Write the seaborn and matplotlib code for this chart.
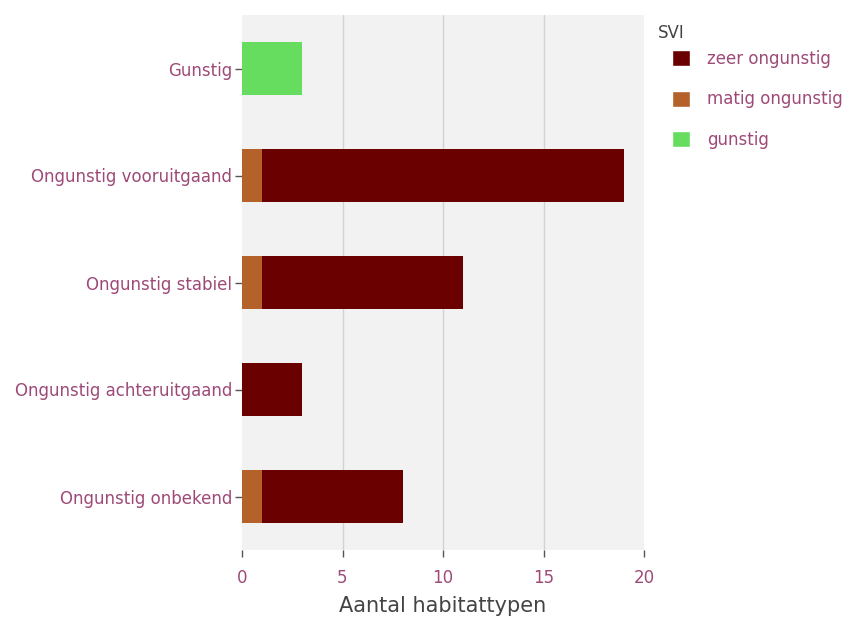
import matplotlib
matplotlib.use("Agg")
import matplotlib.pyplot as plt
from matplotlib.patches import Patch
import seaborn as sns
import pandas as pd

# categories (top to bottom) and counts per SVI class
categories = ["Gunstig", "Ongunstig vooruitgaand", "Ongunstig stabiel",
              "Ongunstig achteruitgaand", "Ongunstig onbekend"]
matig_ongunstig = [0, 1, 1, 0, 1]
zeer_ongunstig = [0, 18, 10, 3, 7]
gunstig = [3, 0, 0, 0, 0]

col_zeer = "#6b0000"
col_matig = "#b5612a"
col_gunstig = "#66dd5e"
label_col = "#9e4a78"

df = pd.DataFrame({
    "cat": categories,
    "matig": matig_ongunstig,
    "zeer": zeer_ongunstig,
    "gunstig": gunstig,
})
df["matig_zeer"] = df["matig"] + df["zeer"]

sns.set_style("white")
plt.rcParams["font.family"] = ["DejaVu Sans"]

fig = plt.figure(figsize=(8.47, 6.17), dpi=100)
ax = fig.add_axes([242 / 847, 1 - 550 / 617, (644 - 242) / 847, (550 - 15) / 617])
ax.set_facecolor("#f2f2f2")

# stacked bars: draw cumulative total first, then the lower segment over it
sns.barplot(data=df, x="matig_zeer", y="cat", order=categories, color=col_zeer,
            width=0.5, orient="h", ax=ax, saturation=1, linewidth=0, zorder=2)
sns.barplot(data=df, x="matig", y="cat", order=categories, color=col_matig,
            width=0.5, orient="h", ax=ax, saturation=1, linewidth=0, zorder=3)
sns.barplot(data=df, x="gunstig", y="cat", order=categories, color=col_gunstig,
            width=0.5, orient="h", ax=ax, saturation=1, linewidth=0, zorder=4)

ax.set_xlim(0, 20)
ax.set_ylim(4.5, -0.5)
ax.set_xticks([0, 5, 10, 15, 20])
for v in [5, 10, 15]:
    ax.axvline(v, color="#d3d3d3", linewidth=1, zorder=0)
for s in ax.spines.values():
    s.set_visible(False)

ax.tick_params(axis="both", left=True, bottom=True, colors="#555555",
               length=5, width=1, labelsize=12, labelcolor=label_col,
               direction="out")
ax.tick_params(axis="y", pad=2)
ax.tick_params(axis="x", pad=9)
ax.set_ylabel("")
ax.set_xlabel("Aantal habitattypen", fontsize=15, color="#444444", labelpad=6)

# legend: title placed separately so entries can be indented
fig.text(658 / 847, 1 - 33 / 617, "SVI", fontsize=12, color="#444444",
         ha="left", va="center")
handles = [Patch(facecolor=col_zeer, label="zeer ongunstig"),
           Patch(facecolor=col_matig, label="matig ongunstig"),
           Patch(facecolor=col_gunstig, label="gunstig")]
leg = fig.legend(handles=handles, loc="upper left",
                 bbox_to_anchor=(672 / 847, 1 - 50 / 617), frameon=False,
                 fontsize=12, handlelength=1.1, handleheight=1.1,
                 labelspacing=1.35, handletextpad=1.0, borderpad=0,
                 borderaxespad=0)
for t in leg.get_texts():
    t.set_color(label_col)

fig.savefig("out.png", dpi=100)
